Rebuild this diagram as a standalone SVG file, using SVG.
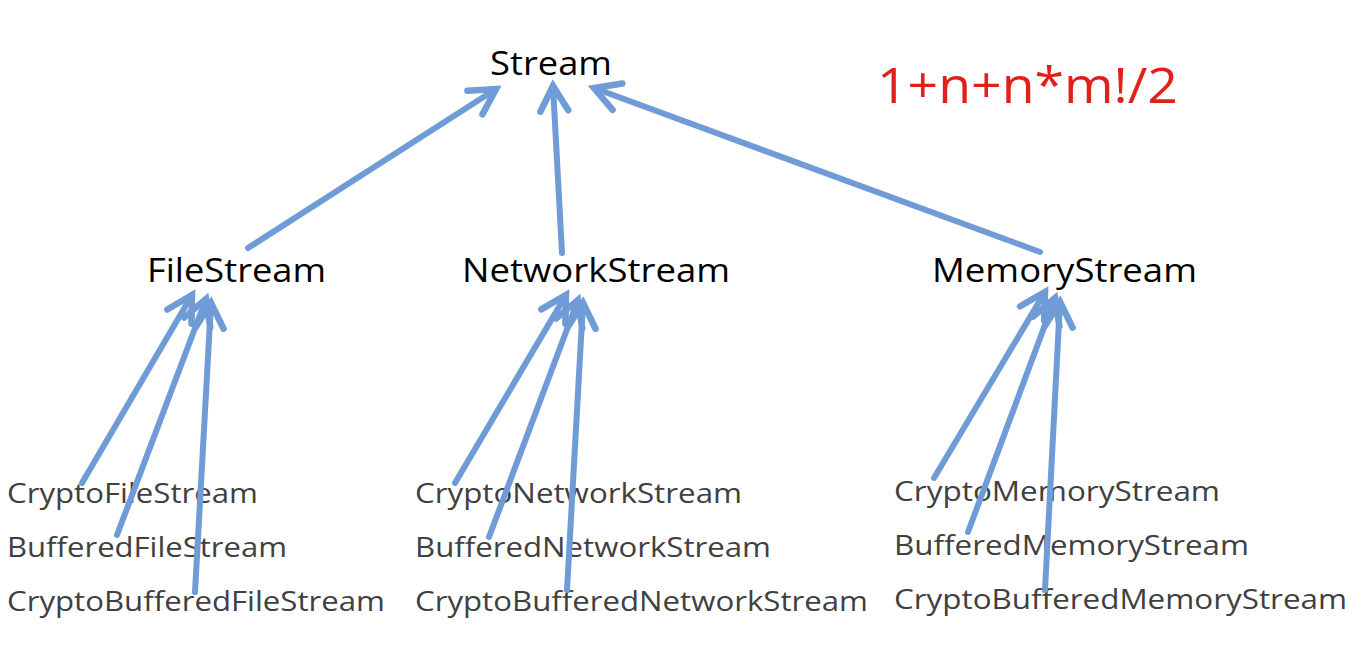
<svg xmlns="http://www.w3.org/2000/svg" width="1364" height="646" viewBox="0 0 1364 646">
<defs>
<marker id="ah" markerUnits="userSpaceOnUse" viewBox="-30 -20 40 40" markerWidth="40" markerHeight="40" refX="0" refY="0" orient="auto" overflow="visible">
<path d="M -25,-14 L 0,0 L -25,14" fill="none" stroke="#6f9bd6" stroke-width="6.5" stroke-linecap="round" stroke-linejoin="miter"/>
</marker>
<style>
.c{stroke:#6f9bd6;stroke-width:6;fill:none;stroke-linecap:round;marker-end:url(#ah)}
.t{font-family:"Open Sans","Liberation Sans",sans-serif;fill:#000;font-size:33px}
.s{font-family:"Open Sans","Liberation Sans",sans-serif;fill:#404040;font-size:27px}
.r{font-family:"Open Sans","Liberation Sans",sans-serif;fill:#e0201b;font-size:50px}
</style>
</defs>
<rect width="1364" height="646" fill="#fff"/>
<g id="stream"><text class="t" x="490" y="75" textLength="122" lengthAdjust="spacingAndGlyphs">Stream</text></g>
<g id="formula"><text class="r" x="877" y="103" textLength="301" lengthAdjust="spacingAndGlyphs">1+n+n*m!/2</text></g>
<g id="fileStream"><text class="t" x="147" y="282" textLength="179" lengthAdjust="spacingAndGlyphs">FileStream</text></g>
<g id="networkStream"><text class="t" x="462" y="282" textLength="268" lengthAdjust="spacingAndGlyphs">NetworkStream</text></g>
<g id="memoryStream"><text class="t" x="932" y="282" textLength="265" lengthAdjust="spacingAndGlyphs">MemoryStream</text></g>
<g id="cryptoFileStream"><text class="s" x="7" y="503" textLength="251" lengthAdjust="spacingAndGlyphs">CryptoFileStream</text></g>
<g id="bufferedFileStream"><text class="s" x="7" y="557" textLength="280" lengthAdjust="spacingAndGlyphs">BufferedFileStream</text></g>
<g id="cryptoBufferedFileStream"><text class="s" x="7" y="611" textLength="378" lengthAdjust="spacingAndGlyphs">CryptoBufferedFileStream</text></g>
<g id="cryptoNetworkStream"><text class="s" x="415" y="503" textLength="327" lengthAdjust="spacingAndGlyphs">CryptoNetworkStream</text></g>
<g id="bufferedNetworkStream"><text class="s" x="415" y="557" textLength="356" lengthAdjust="spacingAndGlyphs">BufferedNetworkStream</text></g>
<g id="cryptoBufferedNetworkStream"><text class="s" x="415" y="611" textLength="453" lengthAdjust="spacingAndGlyphs">CryptoBufferedNetworkStream</text></g>
<g id="cryptoMemoryStream"><text class="s" x="894" y="501" textLength="326" lengthAdjust="spacingAndGlyphs">CryptoMemoryStream</text></g>
<g id="bufferedMemoryStream"><text class="s" x="894" y="555" textLength="355" lengthAdjust="spacingAndGlyphs">BufferedMemoryStream</text></g>
<g id="cryptoBufferedMemoryStream"><text class="s" x="894" y="609" textLength="453" lengthAdjust="spacingAndGlyphs">CryptoBufferedMemoryStream</text></g>
<g id="connectors">
<line class="c" x1="248" y1="248" x2="496" y2="89"/>
<line class="c" x1="562" y1="253" x2="553" y2="86"/>
<line class="c" x1="1040" y1="252" x2="594" y2="88"/>
<line class="c" x1="82" y1="483" x2="192" y2="295"/>
<line class="c" x1="117" y1="535" x2="206" y2="299"/>
<line class="c" x1="195" y1="592" x2="211" y2="303"/>
<line class="c" x1="455" y1="483" x2="566" y2="295"/>
<line class="c" x1="489" y1="537" x2="578" y2="300"/>
<line class="c" x1="567" y1="590" x2="583" y2="303"/>
<line class="c" x1="934" y1="478" x2="1045" y2="292"/>
<line class="c" x1="968" y1="532" x2="1055" y2="298"/>
<line class="c" x1="1045" y1="590" x2="1060" y2="302"/>
</g>
</svg>
